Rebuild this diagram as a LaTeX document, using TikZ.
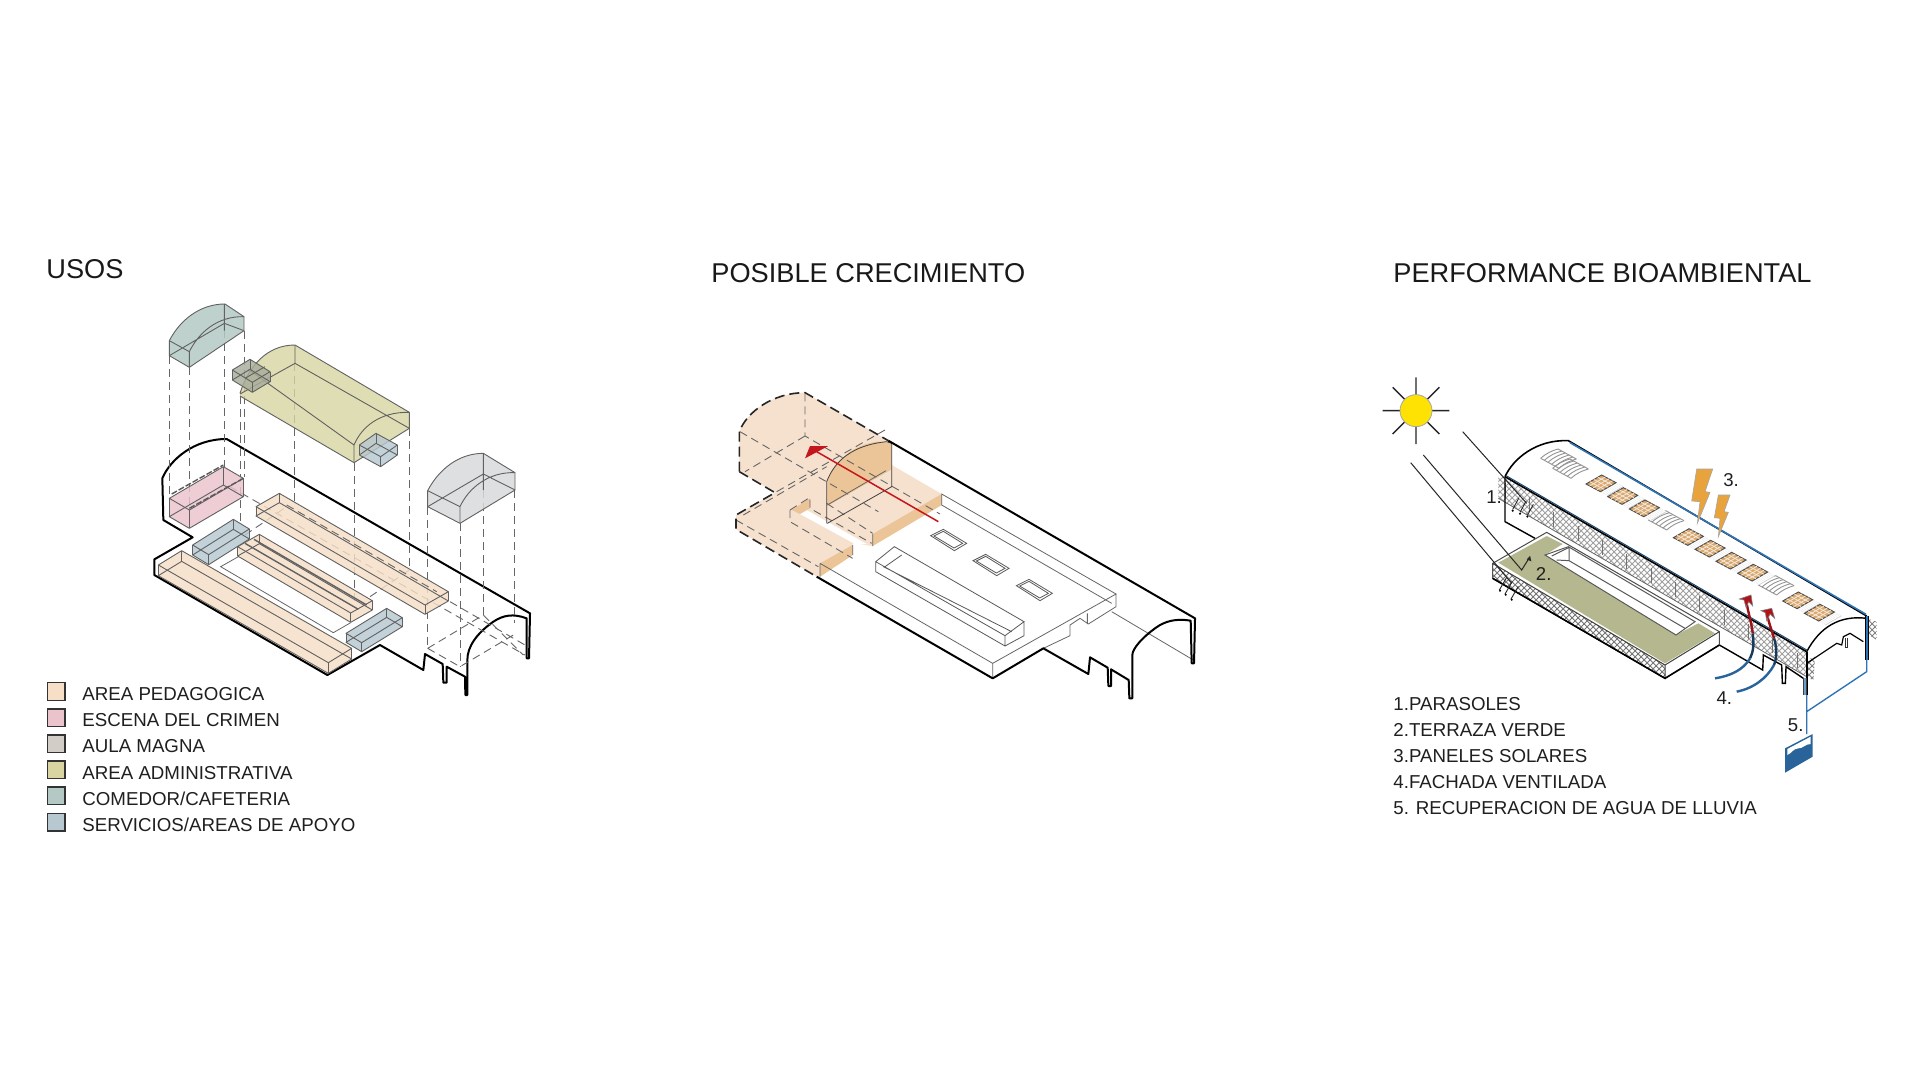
\documentclass[tikz,border=0pt]{standalone}
\usepackage{fontspec}
\setmainfont{Liberation Sans}
\usetikzlibrary{patterns,calc}
\definecolor{cPed}{HTML}{F6DFC6}
\definecolor{cCrimen}{HTML}{EBC3CC}
\definecolor{cAula}{HTML}{D3CDC8}
\definecolor{cAdm}{HTML}{D8D5A2}
\definecolor{cCom}{HTML}{B4C9C4}
\definecolor{cServ}{HTML}{B7C8D0}
\definecolor{cGrey}{HTML}{D9DADB}
\definecolor{cPeach}{HTML}{F6E1CE}
\definecolor{cDark}{HTML}{EBC497}
\definecolor{cGreen}{HTML}{B5B78F}
\definecolor{cSolar}{HTML}{D9A86E}
\definecolor{cBolt}{HTML}{E8A33D}
\definecolor{cPipe}{HTML}{2F74B5}
\definecolor{cRed}{HTML}{C4161C}
\tikzset{
  zone/.style={draw=black!62,line width=.45pt,line join=round},
  wall/.style={draw=black,line width=.8pt,line join=round},
  fine/.style={draw=black!60,line width=.4pt},
  ghost/.style={draw=black!60,line width=.45pt,dash pattern=on 4pt off 2.5pt},
  heavyghost/.style={draw=black!85,line width=.8pt,dash pattern=on 5pt off 2.5pt},
  ray/.style={draw=black!85,line width=.5pt},
  txt/.style={inner sep=0pt,anchor=west,font=\fontsize{9.35}{11}\selectfont,text=black!88},
  ttl/.style={inner sep=0pt,anchor=west,font=\fontsize{13.6}{16}\selectfont,text=black!90},
  num/.style={inner sep=0pt,font=\fontsize{9.3}{11}\selectfont,text=black!88},
  swatch/.style={draw=black!80,line width=.7pt,minimum width=8.8pt,minimum height=8.8pt,inner sep=0pt},
}
% x y ax ay bx by h colour
\newcommand{\isobox}[8]{%
  \fill[#8,opacity=.82] (#1,#2) -- ({#1+#3},{#2+#4}) -- ({#1+#3+#5},{#2+#4+#6}) -- ({#1+#3+#5},{#2+#4+#6+#7}) -- ({#1+#5},{#2+#6+#7}) -- (#1,{#2+#7}) -- cycle;
  \draw[zone] (#1,#2) -- ({#1+#3},{#2+#4}) -- ({#1+#3+#5},{#2+#4+#6}) -- ({#1+#5},{#2+#6}) -- cycle;
  \draw[zone] (#1,{#2+#7}) -- ({#1+#3},{#2+#4+#7}) -- ({#1+#3+#5},{#2+#4+#6+#7}) -- ({#1+#5},{#2+#6+#7}) -- cycle;
  \draw[zone] (#1,#2) -- +(0,#7) ({#1+#3},{#2+#4}) -- +(0,#7) ({#1+#3+#5},{#2+#4+#6}) -- +(0,#7) ({#1+#5},{#2+#6}) -- +(0,#7);
}
% x y : solar panel with the pale strip beside it
\newcommand{\solarpanel}[2]{%
  \fill[black!18] ({#1+43},{#2+23}) -- ({#1+90},{#2-4}) -- ({#1+112},{#2+8}) -- ({#1+65},{#2+35}) -- cycle;
  \foreach \k in {.2,.4,.6,.8}{\draw[white,line width=.6pt] ({#1+43+22*\k},{#2+23+12*\k}) -- ({#1+90+22*\k},{#2-4+12*\k});}
  \fill[cSolar,draw=black!70,line width=.45pt] (#1,#2) -- ({#1+47},{#2-27}) -- ({#1+90},{#2-4}) -- ({#1+43},{#2+23}) -- cycle;
  \foreach \k in {.25,.5,.75}{
    \draw[white!75!cSolar,line width=.4pt] ({#1+47*\k},{#2-27*\k}) -- ({#1+43+47*\k},{#2+23-27*\k});
    \draw[white!75!cSolar,line width=.4pt] ({#1+43*\k},{#2+23*\k}) -- ({#1+47+43*\k},{#2-27+23*\k});
  }
}
% x y : pale skylight strip
\newcommand{\roofstrip}[2]{%
  \foreach \k in {0,.2,.4,.6,.8,1}{
    \draw[black!42,line width=.45pt] ({#1+55*\k},{#2+30*\k}) .. controls ({#1+55*\k+18},{#2+30*\k-16}) and ({#1+55*\k+32},{#2+30*\k-22}) .. ({#1+55*\k+52},{#2+30*\k-28});
  }
  \draw[black!42,line width=.45pt] (#1,#2) -- ({#1+55},{#2+30}) ({#1+52},{#2-28}) -- ({#1+107},{#2+2});
}
\begin{document}
\begin{tikzpicture}[x=.5pt,y=-.5pt]
\useasboundingbox (0,0) rectangle (1920,1080);
\fill[white] (0,0) rectangle (1920,1080);

% ---------- titles ----------
\node[ttl] (t1) at (46,269) {USOS};
\node[ttl] (t2) at (711,273) {POSIBLE CRECIMIENTO};
\node[ttl] (t3) at (1393,273) {PERFORMANCE BIOAMBIENTAL};

% ---------- legend ----------
\foreach \i/\col/\lab in {0/cPed/AREA PEDAGOGICA,1/cCrimen/ESCENA DEL CRIMEN,2/cAula/AULA MAGNA,3/cAdm/AREA ADMINISTRATIVA,4/cCom/COMEDOR\slash CAFETERIA,5/cServ/SERVICIOS\slash AREAS DE APOYO}{
  \node[swatch,fill=\col] (sw\i) at (56,{691.5+26.1*\i}) {};
  \node[txt] (lg\i) at (82,{694+26.2*\i}) {\lab};
}

% ---------- list ----------
\foreach \i/\lab in {0/1.PARASOLES,1/2.TERRAZA VERDE,2/3.PANELES SOLARES,3/4.FACHADA VENTILADA,4/5. RECUPERACION DE AGUA DE LLUVIA}{
  \node[txt] (ls\i) at (1393,{704+26*\i}) {\lab};
}

% ================= PANEL 1 =================
\begin{scope}[shift={(130,290)},x=.16667pt,y=-.16667pt]
  % building
  \draw[wall,line width=1pt] (100,690) -- (97,565) .. controls (120,510) and (190,447) .. (290,447) -- (1200,970) -- (1197,1105) -- (1190,1105) -- (1190,985) .. controls (1150,970) and (1120,975) .. (1090,995) .. controls (1040,1030) and (1012,1070) .. (1012,1110) -- (1012,1215) -- (1006,1215) -- (1005,1160) -- (950,1130) -- (950,1178) -- (940,1178) -- (938,1122) -- (885,1092) -- (880,1140) -- (750,1065) -- (592,1155) -- (73,855) -- (73,808) -- (188,742) -- cycle;
  % courtyard
  \draw[fine] (325,800) -- (272,830) -- (610,1028) -- (662,998);
  % dashed ghost lines
  \draw[ghost] (118,197) -- (118,620) (178,232) -- (178,655) (283,120) -- (283,530) (342,122) -- (342,560) (330,318) -- (330,692)
    (492,220) -- (492,640) (672,518) -- (672,940) (838,415) -- (838,840)
    (893,650) -- (893,1075) (990,700) -- (990,1130) (1060,600) -- (1060,975) (1152,600) -- (1152,1000);
  \draw[ghost] (893,1075) -- (1060,975) -- (1180,1095) (893,1075) -- (990,1130) -- (1150,1035)
    (300,590) -- (1185,1095) (345,735) -- (470,650) (720,920) -- (838,840) (960,935) -- (1185,1065);
  % bars
  \isobox{85}{825}{70}{-43}{510}{293}{32}{cPed}
  \isobox{323}{770}{65}{-37}{339}{199}{28}{cPed}
  \draw[zone,line width=.7pt] (345,760) -- (685,958) (372,748) -- (710,945);
  \isobox{378}{650}{70}{-40}{507}{295}{28}{cPed}
  \draw[ghost] (470,645) -- (920,905);
  \isobox{188}{765}{122}{-77}{48}{29}{30}{cServ}
  \isobox{648}{1030}{122}{-75}{47}{28}{27}{cServ}
  % pink room
  \isobox{118}{625}{162}{-95}{60}{35}{55}{cCrimen}
  \draw[black!65,line width=.7pt,dash pattern=on 3pt off 1pt] (178,655) -- (340,565) (125,612) -- (280,525);
  % teal vault
  \fill[cCom,opacity=.85] (118,152) .. controls (150,90) and (210,42) .. (285,42) -- (342,80) -- (342,122) -- (178,232) -- (118,197) -- cycle;
  \draw[zone] (118,152) .. controls (150,90) and (210,42) .. (285,42) -- (342,80) -- (342,122) -- (178,232) -- (118,197) -- cycle;
  \draw[zone] (118,152) -- (178,185) .. controls (205,130) and (260,78) .. (342,80) (178,185) -- (178,232) (118,197) -- (283,100) -- (342,122) (283,42) -- (283,122);
  % olive vault
  \path[fill=cAdm,opacity=.8] (330,310) .. controls (355,230) and (410,165) .. (495,165) -- (838,367) -- (838,415) -- (672,518) -- (330,318) -- cycle;
  \draw[zone] (330,310) .. controls (355,230) and (410,165) .. (495,165) -- (838,367) -- (838,415) -- (672,518) -- (330,318);
  \draw[zone] (330,312) -- (495,220) -- (838,415) (495,165) -- (495,220) (672,518) -- (672,465) .. controls (695,410) and (750,365) .. (838,367) (355,238) -- (672,465);
  % small service boxes
  \isobox{307}{240}{53}{-32}{60}{37}{30}{cServ!70!black!55!cAdm}
  \isobox{688}{465}{50}{-35}{64}{35}{30}{cServ}
  \draw[zone] (345,265) -- (405,230);
  % grey vault
  \fill[cGrey,opacity=.85] (893,602) .. controls (925,540) and (985,490) .. (1060,490) -- (1155,548) -- (1155,600) -- (990,700) -- (893,650) -- cycle;
  \draw[zone] (893,602) .. controls (925,540) and (985,490) .. (1060,490) -- (1155,548) -- (1155,600) -- (990,700) -- (893,650) -- cycle;
  \draw[zone] (893,602) -- (990,650) .. controls (1015,595) and (1075,545) .. (1155,548) (990,650) -- (990,700) (893,650) -- (1060,552) -- (1155,600) (1060,490) -- (1060,600);
\end{scope}

% ================= PANEL 2 =================
\begin{scope}[shift={(710,370)},x=.16667pt,y=-.16667pt]
  % peach ground
  \fill[cPeach] (88,305) -- (88,185) .. controls (110,125) and (190,68) .. (285,68) -- (535,212) -- (545,285) -- (695,372) -- (695,405) -- (488,528) -- (428,520) -- (428,555) -- (330,620) -- (318,618) -- (78,478) -- (78,435) -- (195,368) -- cycle;
  \fill[white] (270,432) -- (290,420) -- (470,522) -- (440,525) -- cycle;
  % dark faces
  \fill[cDark] (330,580) -- (428,525) -- (428,555) -- (330,620) -- cycle;
  \fill[cDark] (488,492) -- (695,372) -- (695,405) -- (488,528) -- cycle;
  \fill[cDark] (352,408) -- (545,298) -- (545,218) -- (500,215) .. controls (430,225) and (375,270) .. (352,335) -- cycle;
  \fill[cDark] (245,420) -- (300,385) -- (300,415) -- (270,432) -- cycle;
  % ghost lines
  \draw[ghost] (285,70) -- (285,198) -- (690,432) (285,198) -- (105,305) (90,185) -- (285,298) -- (505,425)
    (200,365) -- (525,180) (78,450) -- (325,590) (100,435) -- (350,290) (240,420) -- (240,455) -- (428,565)
    (240,420) -- (300,382) -- (300,415) -- (485,520) (350,400) -- (488,490);
  \draw[heavyghost] (88,305) -- (88,185) .. controls (110,125) and (190,68) .. (285,68) -- (535,212);
  \draw[heavyghost] (88,305) -- (195,368) -- (78,435) -- (78,478) -- (320,620);
  % inner solids
  \draw[fine,draw=black!75] (350,460) -- (350,335) .. controls (375,270) and (430,225) .. (530,215) -- (545,220) -- (545,350) -- (352,460);
  \draw[fine] (352,405) -- (528,302);
  \draw[fine] (330,580) -- (330,620) (330,580) -- (848,880) -- (1218,672) -- (695,372) -- (695,405) -- (1205,700)
    (848,880) -- (848,925) (1218,672) -- (1218,710) -- (1135,762) -- (1110,745) -- (1080,765) -- (1080,797) -- (1000,835)
    (1132,730) -- (1132,762) (1205,725) -- (1450,870) (428,525) -- (428,555) (488,492) -- (488,528);
  % central box
  \draw[fine,draw=black!65] (497,575) -- (553,530) -- (942,755) -- (885,797) -- cycle (497,575) -- (497,605) -- (885,828) -- (942,797) -- (942,755) (885,797) -- (885,828) (525,590) -- (575,555) (520,590) -- (905,785);
  % skylights
  \foreach \dx/\dy in {0/0,127/75,257/150}{
    \draw[fine,draw=black!65] ({662+\dx},{497+\dy}) -- ({700+\dx},{478+\dy}) -- ({770+\dx},{520+\dy}) -- ({733+\dx},{542+\dy}) -- cycle;
    \draw[fine,draw=black!65] ({672+\dx},{498+\dy}) -- ({700+\dx},{484+\dy}) -- ({758+\dx},{520+\dy}) -- ({732+\dx},{534+\dy}) -- cycle;
  }
  % building
  \draw[wall,line width=1pt] (535,212) -- (1455,745) -- (1452,880) -- (1445,880) -- (1442,752) .. controls (1400,745) and (1365,752) .. (1335,775) .. controls (1300,800) and (1267,835) .. (1267,855) -- (1267,985) -- (1258,985) -- (1256,930) -- (1203,898) -- (1203,948) -- (1195,948) -- (1193,893) -- (1140,862) -- (1135,912) -- (1000,835) -- (848,925) -- (320,620);
  % arrow
  \draw[cRed,line width=.75pt] (685,455) -- (320,245);
  \fill[cRed] (355,228) -- (285,265) -- (300,228) -- cycle;
\end{scope}

% ================= PANEL 3 =================
\begin{scope}[shift={(1370,370)},x=.16667pt,y=-.16667pt]
  % sun
  \draw[ray,line width=.7pt] (38,122) -- (238,122) (138,22) -- (138,222) (68,52) -- (208,192) (208,52) -- (68,192);
  \fill[yellow!85!orange,draw=black!35,line width=.4pt] (138,122) circle [radius=48];
  % roof strips and panels
  \roofstrip{512}{265}
  \roofstrip{548}{295}
  \roofstrip{835}{450}
  \roofstrip{1165}{645}
  \solarpanel{648}{342}
  \solarpanel{713}{380}
  \solarpanel{778}{417}
  \solarpanel{910}{503}
  \solarpanel{975}{538}
  \solarpanel{1038}{574}
  \solarpanel{1103}{610}
  \solarpanel{1238}{693}
  \solarpanel{1303}{730}
  % facade band
  \path[pattern=crosshatch,pattern color=black!50] (385,318) -- (405,320) -- (1310,845) -- (1310,920) -- (385,385) -- cycle;
  \path[fill=white,opacity=.25] (385,318) -- (405,320) -- (1310,845) -- (1310,920) -- (385,385) -- cycle;
  \path[pattern=crosshatch,pattern color=black!50] (1310,870) -- (1335,860) -- (1330,932) -- (1310,920) -- cycle;
  \path[pattern=crosshatch,pattern color=black!50] (1490,745) -- (1520,755) -- (1520,810) -- (1490,790) -- cycle;
  \foreach \k in {0,...,12}{\draw[black!55,line width=.35pt] ({405+\k*73},{385+\k*42.3}) -- ({405+\k*73},{340+\k*42.3});}
  \draw[black!60,line width=.4pt] (385,385) -- (1310,920);
  % building walls
  \draw[black,line width=.7pt] (405,320) -- (405,455) -- (495,505);
  \draw[black,line width=.7pt] (1048,825) -- (1178,900) -- (1180,855) -- (1235,885) -- (1237,940) -- (1246,940) -- (1248,890) -- (1300,925);
  \draw[black,line width=.8pt] (405,320) .. controls (430,265) and (500,208) .. (595,212) -- (1490,738);
  \draw[cPipe,line width=.8pt] (600,218) -- (1488,733);
  \draw[black,line width=.8pt] (405,320) -- (1310,845);
  \draw[cPipe!60!black,line width=.5pt] (410,318) -- (1310,840);
  \draw[black,line width=.8pt] (1310,845) -- (1310,975);
  \draw[black,line width=.7pt] (1310,845) .. controls (1350,770) and (1410,735) .. (1490,745);
  \draw[black,line width=.6pt] (1310,880) -- (1400,820) -- (1415,825) -- (1420,800) -- (1440,790) -- (1480,815);
  \draw[black!80,line width=.5pt] (1425,805) -- (1425,832) -- (1432,832) -- (1432,805);
  % rear down-pipe
  \draw[black,line width=2pt] (1490,738) -- (1490,870);
  \draw[cPipe,line width=1pt] (1490,738) -- (1490,870);
  \draw[black!75,line width=1.8pt] (1305,925) -- (1305,975);
  \draw[cPipe!70!white,line width=.9pt] (1305,925) -- (1305,975);
  % podium
  \fill[white,draw=black!70,line width=.5pt] (368,580) -- (530,487) -- (1048,785) -- (1048,825) -- (885,925) -- (368,625) -- cycle;
  \path[pattern=crosshatch,pattern color=black!55] (368,580) -- (885,885) -- (885,925) -- (368,625) -- cycle;
  \draw[black!75,line width=.5pt] (368,580) -- (885,885) -- (885,925) -- (368,625) (885,885) -- (1048,785);
  \draw[black,line width=.8pt] (368,625) -- (885,925) -- (1048,825);
  \fill[cGreen] (385,578) -- (530,498) -- (578,522) -- (525,555) -- (918,795) -- (985,760) -- (1035,790) -- (885,880) -- cycle;
  \fill[white,draw=black!65,line width=.5pt] (525,555) -- (595,530) -- (975,755) -- (918,795) -- cycle;
  \draw[black!65,line width=.5pt] (597,532) -- (597,572) -- (945,775) (545,558) -- (597,532) (597,572) -- (560,570);
  % sun rays
  \draw[ray] (278,185) -- (470,400);
  \draw[ray] (160,255) -- (455,600) -- (480,560);
  \fill[black!85] (480,558) -- (484,574) -- (470,568) -- cycle;
  \draw[ray] (122,278) -- (425,640);
  % parasol dots / short lines
  \foreach \dx/\dy in {0/0,22/9,44/18}{
    \draw[black!85,line width=.45pt] ({448+\dx-20},{418+\dy}) -- ({428+\dx+18},{385+\dy});
    \fill[black] ({428+\dx},{422+\dy}) circle [radius=3.5];
  }
  \foreach \dx/\dy in {0/0,17/12,35/27}{
    \draw[black!85,line width=.45pt] ({388+\dx},{660+\dy}) -- ({410+\dx},{622+\dy});
    \fill[black] ({390+\dx},{662+\dy}) circle [radius=3.5];
  }
  % bolts
  \fill[cBolt,draw=black!35,line width=.3pt] (980,297) -- (1028,297) -- (1005,365) -- (1020,367) -- (982,460) -- (990,395) -- (965,393) -- cycle;
  \fill[cBolt,draw=black!35,line width=.3pt] (1045,375) -- (1080,375) -- (1062,425) -- (1075,427) -- (1045,500) -- (1050,445) -- (1033,443) -- cycle;
  % air arrows
  \draw[cPipe!85!black,line width=1.2pt] (1035,925) .. controls (1080,918) and (1120,900) .. (1140,865);
  \draw[black!50!cPipe,line width=1.2pt] (1140,865) .. controls (1150,845) and (1152,825) .. (1148,790);
  \draw[cRed!80!black,line width=1.2pt] (1148,790) .. controls (1145,760) and (1135,730) .. (1130,700);
  \fill[cRed!90!black,draw=black!50,line width=.3pt] (1108,687) -- (1143,675) -- (1148,708) -- (1136,695) -- (1128,712) -- (1122,690) -- cycle;
  \draw[cPipe!85!black,line width=1.2pt] (1100,965) .. controls (1150,955) and (1190,925) .. (1212,885);
  \draw[black!50!cPipe,line width=1.2pt] (1212,885) .. controls (1222,860) and (1220,830) .. (1212,805);
  \draw[cRed!80!black,line width=1.2pt] (1212,805) .. controls (1205,780) and (1195,755) .. (1192,735);
  \fill[cRed!90!black,draw=black!50,line width=.3pt] (1173,722) -- (1205,715) -- (1214,745) -- (1200,732) -- (1190,752) -- (1186,728) -- cycle;
  % water
  \draw[cPipe,line width=.7pt] (1310,975) -- (1310,1092) (1310,1025) -- (1490,905) -- (1490,870);
  \fill[cPipe!85!black] (1245,1135) -- (1328,1092) -- (1328,1160) -- (1245,1208) -- cycle;
  \fill[white] (1252,1137) -- (1322,1100) -- (1322,1122) .. controls (1305,1122) and (1300,1135) .. (1285,1135) .. controls (1270,1135) and (1265,1150) .. (1252,1155) -- cycle;
  % labels
  \node[num] (n1) at (372,382) {1.};
  \node[num] (n2) at (521,611) {2.};
  \node[num] (n3) at (1083,331) {3.};
  \node[num] (n4) at (1063,985) {4.};
  \node[num] (n5) at (1277,1065) {5.};
\end{scope}
\end{tikzpicture}
\end{document}
